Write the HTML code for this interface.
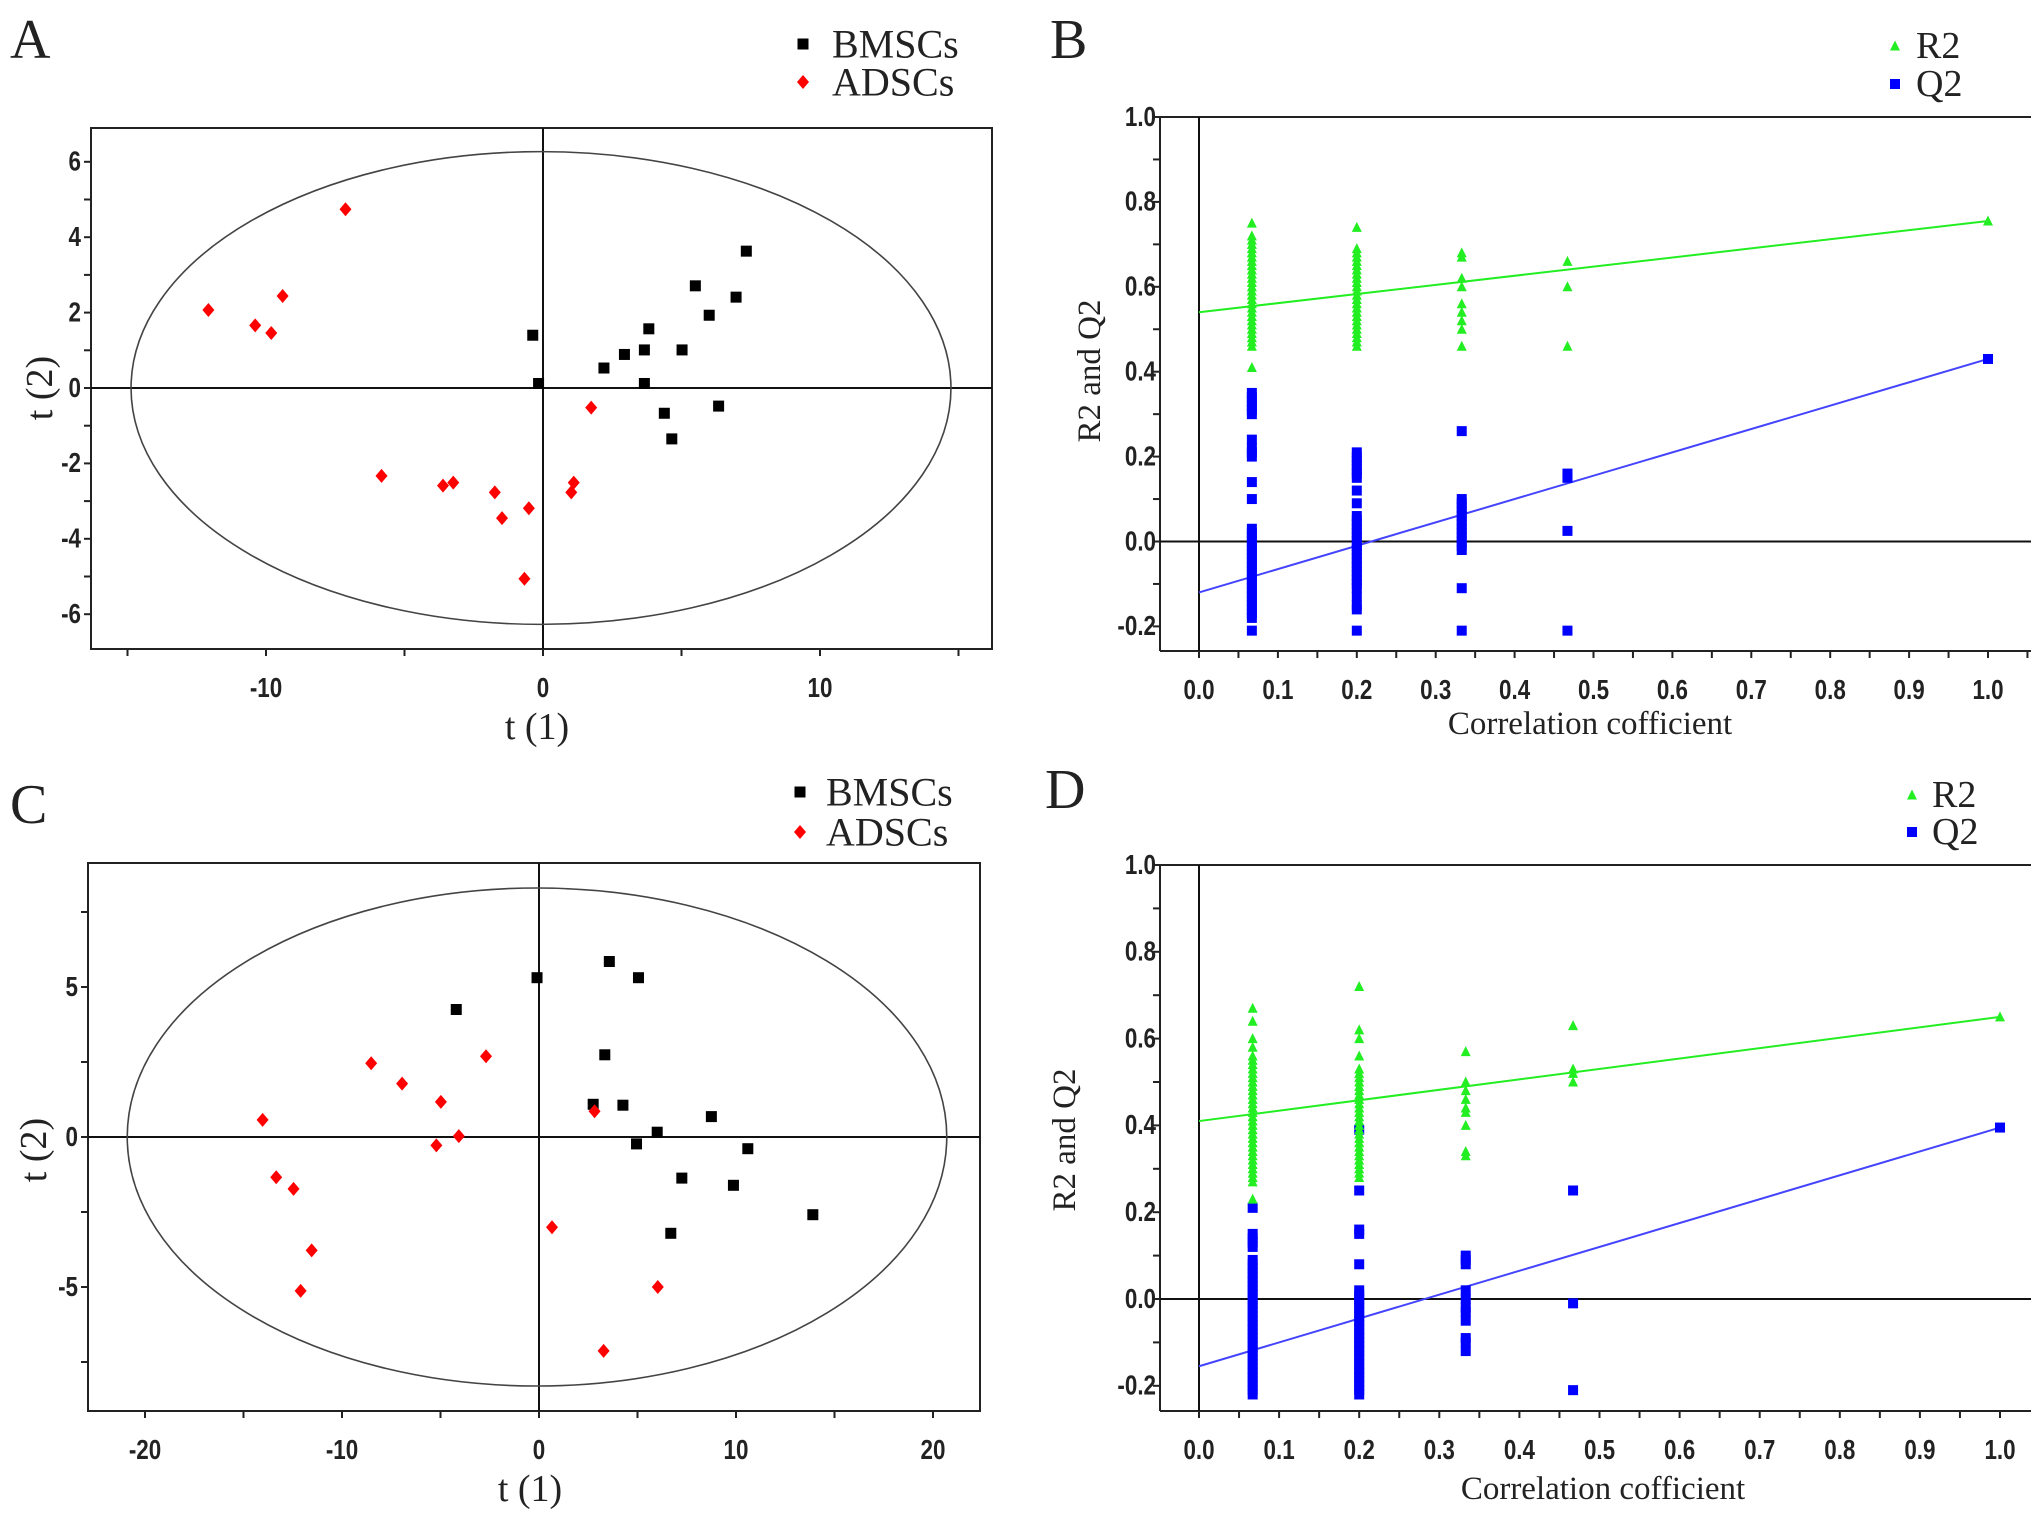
<!DOCTYPE html>
<html><head><meta charset="utf-8">
<style>
html,body{margin:0;padding:0;background:#fff;}
svg{display:block;}
.tick{font-family:"Liberation Sans",sans-serif;font-weight:bold;font-size:28px;fill:#222;}
.ser{font-family:"Liberation Serif",serif;fill:#222;}
</style></head>
<body>
<svg id="fig" width="2031" height="1520" viewBox="0 0 2031 1520" xmlns="http://www.w3.org/2000/svg"></svg>
<script>
// ---- Panel A data ----
const aBmscX = [-0.37,-0.16,2.2,2.94,3.66,3.82,3.66,5.02,5.5,6.0,6.97,7.34,6.34,4.38,4.65];
const aBmscY = [1.40,0.12,0.53,0.89,1.01,1.57,0.12,1.01,2.71,1.93,2.41,3.63,-0.48,-0.67,-1.35];
const aAdscX = [-7.13,-12.08,-10.39,-9.81,-9.4,-5.83,-3.61,-3.24,-1.74,-1.48,-0.51,-0.67,1.02,1.11,1.74];
const aAdscY = [4.74,2.07,1.66,1.46,2.44,-2.33,-2.59,-2.51,-2.77,-3.45,-3.19,-5.06,-2.77,-2.51,-0.52];
const aXTicks = [-10,0,10];
const aYTicks = [-6,-4,-2,0,2,4,6];
// ---- Panel C data ----
const cBmscX = [-0.1,3.57,5.05,-4.2,3.34,2.75,4.26,8.75,6.0,4.95,10.6,7.25,9.87,13.9,6.69];
const cBmscY = [5.31,5.85,5.31,4.25,2.74,1.09,1.06,0.68,0.16,-0.23,-0.39,-1.37,-1.61,-2.59,-3.21];
const cAdscX = [-8.52,-2.69,-6.95,-4.98,-14.03,-4.07,-5.21,2.82,-13.34,-12.46,-11.54,-12.1,0.66,6.03,3.28];
const cAdscY = [2.46,2.69,1.78,1.17,0.57,0.03,-0.28,0.86,-1.34,-1.73,-3.78,-5.13,-3.01,-5.0,-7.13];
const cXTicks = [-20,-10,0,10,20];
const cYTicks = [-5,0,5];
// ---- Panel B data ----
const permX = [0.067,0.2,0.333,0.467];
const bR2c1 = [0.41,0.46,0.47,0.48,0.49,0.50,0.51,0.52,0.53,0.54,0.55,0.56,0.57,0.58,0.59,0.60,0.61,0.62,0.63,0.64,0.65,0.66,0.67,0.68,0.69,0.70,0.71,0.72,0.75];
const bQ2c1 = [-0.21,-0.18,-0.17,-0.16,-0.15,-0.14,-0.13,-0.12,-0.11,-0.10,-0.09,-0.08,-0.07,-0.06,-0.05,-0.04,-0.03,-0.02,-0.01,0.0,0.01,0.02,0.03,0.10,0.14,0.20,0.21,0.22,0.24,0.30,0.31,0.32,0.33,0.34,0.35];
const bR2c2 = [0.46,0.47,0.48,0.49,0.50,0.51,0.52,0.53,0.54,0.55,0.56,0.57,0.58,0.59,0.60,0.61,0.62,0.63,0.64,0.65,0.66,0.67,0.68,0.69,0.74];
const bQ2c2 = [-0.21,-0.16,-0.15,-0.13,-0.11,-0.10,-0.09,-0.08,-0.07,-0.06,-0.05,-0.04,-0.03,-0.02,-0.01,0.0,0.01,0.02,0.03,0.04,0.05,0.06,0.09,0.12,0.15,0.16,0.17,0.18,0.19,0.20,0.21];
const bR2c3 = [0.46,0.50,0.52,0.54,0.56,0.60,0.62,0.67,0.68];
const bQ2c3 = [-0.21,-0.11,-0.02,-0.01,0.0,0.01,0.02,0.03,0.04,0.05,0.06,0.07,0.08,0.09,0.10,0.26];
const bR2c4 = [0.46,0.60,0.66];
const bQ2c4 = [-0.21,0.025,0.15,0.16];
const bR2Perm = [1.0,0.755];
const bQ2Perm = [1.0,0.43];
const bR2Line = [0.54,0.755];
const bQ2Line = [-0.12,0.43];
// ---- Panel D data ----
const dR2c1 = [0.23,0.27,0.28,0.29,0.30,0.31,0.32,0.33,0.34,0.35,0.36,0.37,0.38,0.39,0.40,0.41,0.42,0.43,0.44,0.45,0.46,0.47,0.48,0.49,0.50,0.51,0.52,0.53,0.54,0.55,0.56,0.58,0.60,0.64,0.67];
const dQ2c1 = [-0.22,-0.21,-0.20,-0.19,-0.18,-0.17,-0.16,-0.15,-0.14,-0.13,-0.12,-0.11,-0.10,-0.09,-0.08,-0.07,-0.06,-0.05,-0.04,-0.03,-0.02,-0.01,0.0,0.01,0.02,0.03,0.04,0.05,0.06,0.07,0.08,0.09,0.12,0.13,0.14,0.15,0.21];
const dR2c2 = [0.28,0.29,0.30,0.31,0.32,0.33,0.34,0.35,0.36,0.37,0.38,0.39,0.40,0.41,0.42,0.43,0.44,0.45,0.46,0.47,0.48,0.49,0.50,0.51,0.52,0.53,0.56,0.60,0.62,0.72];
const dQ2c2 = [-0.22,-0.21,-0.20,-0.19,-0.18,-0.17,-0.16,-0.15,-0.14,-0.13,-0.12,-0.11,-0.10,-0.09,-0.08,-0.07,-0.06,-0.05,-0.04,-0.03,-0.02,-0.01,0.0,0.01,0.02,0.08,0.15,0.16,0.25,0.39];
const dR2c3 = [0.33,0.34,0.40,0.43,0.44,0.46,0.48,0.50,0.57];
const dQ2c3 = [-0.12,-0.10,-0.09,-0.05,-0.03,-0.02,0.0,0.02,0.08,0.09,0.10];
const dR2c4 = [0.50,0.52,0.53,0.63];
const dQ2c4 = [-0.21,-0.01,0.25];
const dR2Perm = [1.0,0.65];
const dQ2Perm = [1.0,0.395];
const dR2Line = [0.41,0.65];
const dQ2Line = [-0.155,0.395];
const permTicks = [0.0,0.1,0.2,0.3,0.4,0.5,0.6,0.7,0.8,0.9,1.0];
const permYTicks = [-0.2,0.0,0.2,0.4,0.6,0.8,1.0];

const NS='http://www.w3.org/2000/svg';
const svg=document.getElementById('fig');
function mk(tag,attrs,parent){const e=document.createElementNS(NS,tag);for(const k in attrs)e.setAttribute(k,attrs[k]);(parent||svg).appendChild(e);return e;}
function txt(s,x,y,cls,size,anchor,parent){const t=mk('text',{x:x,y:y,'class':cls,'font-size':size,'text-anchor':anchor||'middle','dominant-baseline':'central'},parent);t.textContent=s;return t;}
function tickTxt(s,x,y,anchor,parent){const t=mk('text',{x:0,y:0,'class':'tick','font-size':28,'text-anchor':anchor,'dominant-baseline':'central',transform:`translate(${x},${y}) scale(0.8,1)`},parent);t.textContent=s;return t;}
function sq(x,y,s,fill,g){return mk('rect',{x:x-s/2,y:y-s/2,width:s,height:s,fill:fill},g);}
function dia(x,y,w,h,fill,g){return mk('polygon',{points:`${x},${y-h/2} ${x+w/2},${y} ${x},${y+h/2} ${x-w/2},${y}`,fill:fill},g);}
function tri(x,y,s,fill,g){return mk('polygon',{points:`${x},${y-s*0.55} ${x+s/2},${y+s*0.45} ${x-s/2},${y+s*0.45}`,fill:fill},g);}

function scorePanel(p){
  const g=mk('g',{});
  
  
  const X=v=>p.x0+v*p.sx, Y=v=>p.y0-v*p.sy;
  const f=mk('rect',{x:p.L,y:p.T,width:p.R-p.L,height:p.B-p.T,fill:'none',stroke:'#222','stroke-width':2},g);
  
  mk('line',{x1:p.L,x2:p.R,y1:Y(0),y2:Y(0),stroke:'#111','stroke-width':2},g);
  mk('line',{x1:X(0),x2:X(0),y1:p.T,y2:p.B,stroke:'#111','stroke-width':2},g);
  const el=mk('ellipse',{cx:p.ecx,cy:Y(0),rx:p.ex*p.sx,ry:p.ey*p.sy,fill:'none',stroke:'#444','stroke-width':1.6},g);
  
  for(let v=p.xMinorStart;v<=-p.xMinorStart+0.001;v+=p.xMinor){mk('line',{x1:X(v),x2:X(v),y1:p.B,y2:p.B+7,stroke:'#222','stroke-width':2},g);}
  for(let v=p.yMinorStart;v<=-p.yMinorStart+0.001;v+=p.yMinor){mk('line',{x1:p.L-7,x2:p.L,y1:Y(v),y2:Y(v),stroke:'#222','stroke-width':2},g);}
  p.xt.forEach(v=>{const t=tickTxt(String(v),X(v),p.xlY,'middle',g);});
  p.yt.forEach(v=>{const t=tickTxt(String(v),p.L-10,Y(v),'end',g);});
  p.bx.forEach((v,i)=>{const m=sq(X(v),Y(p.by[i]),11,'#000',g);});
  p.ax.forEach((v,i)=>{const m=dia(X(v),Y(p.ay[i]),12,14,'#f00',g);});
  const xt=txt('t (1)',p.xtitle[0],p.xtitle[1],'ser',38,'middle',g);
  const yt=txt('t (2)',0,0,'ser',38,'middle',g);yt.setAttribute('transform',`translate(${p.ytitle[0]},${p.ytitle[1]}) rotate(-90)`);
  
  const lt=txt(p.letter,p.letterPos[0],p.letterPos[1],'ser',56,'start',g);
  const l1=sq(p.leg[0],p.leg[1],11,'#000',g);
  const t1=txt('BMSCs',p.leg[2],p.leg[1],'ser',40,'start',g);
  const l2=dia(p.leg[0],p.leg[3],12,14,'#f00',g);
  const t2=txt('ADSCs',p.leg[2],p.leg[3],'ser',40,'start',g);
}

function permPanel(p){
  const g=mk('g',{});
  
  
  const X=v=>p.x0+v*p.sx, Y=v=>p.y0-v*p.sy;
  mk('line',{x1:p.L,x2:p.L,y1:Y(1),y2:p.B,stroke:'#222','stroke-width':2},g);
  mk('line',{x1:p.L,x2:2031,y1:p.B,y2:p.B,stroke:'#222','stroke-width':2},g);
  mk('line',{x1:p.L,x2:2031,y1:Y(1),y2:Y(1),stroke:'#222','stroke-width':2},g);
  mk('line',{x1:p.L,x2:2031,y1:Y(0),y2:Y(0),stroke:'#111','stroke-width':2},g);
  mk('line',{x1:X(0),x2:X(0),y1:Y(1),y2:p.B,stroke:'#111','stroke-width':2},g);
  for(let i=-1;i<=21;i++){const v=i*0.05;const x=X(v);if(x<p.L||x>2030)continue;mk('line',{x1:x,x2:x,y1:p.B,y2:p.B+7,stroke:'#222','stroke-width':2},g);}
  for(let i=-2;i<=10;i++){mk('line',{x1:p.L-7,x2:p.L,y1:Y(i/10),y2:Y(i/10),stroke:'#222','stroke-width':2},g);}
  permTicks.forEach(v=>{const t=tickTxt(v.toFixed(1),X(v),p.xlY,'middle',g);});
  permYTicks.forEach(v=>{const t=tickTxt(v.toFixed(1),p.L-4,Y(v),'end',g);});
  const rl=mk('line',{x1:X(0),y1:Y(p.rLine[0]),x2:X(1),y2:Y(p.rLine[1]),stroke:'#22ee22','stroke-width':2},g);
  
  const ql=mk('line',{x1:X(0),y1:Y(p.qLine[0]),x2:X(1),y2:Y(p.qLine[1]),stroke:'#4444ff','stroke-width':2},g);
  
  p.q.forEach((col,i)=>col.forEach(v=>{const m=sq(X(permX[i]),Y(v),10,'#0000ff',g);}));
  p.r.forEach((col,i)=>col.forEach(v=>{const m=tri(X(permX[i]),Y(v),10,'#22ee22',g);}));
  const qp=sq(X(p.qPerm[0]),Y(p.qPerm[1]),10,'#0000ff',g);
  const rp=tri(X(p.rPerm[0]),Y(p.rPerm[1]),10,'#22ee22',g);
  const xt=txt('Correlation cofficient',p.xtitle[0],p.xtitle[1],'ser',33,'middle',g);
  const yt=txt('R2 and Q2',0,0,'ser',33,'middle',g);yt.setAttribute('transform',`translate(${p.ytitle[0]},${p.ytitle[1]}) rotate(-90)`);
  
  const lt=txt(p.letter,p.letterPos[0],p.letterPos[1],'ser',56,'start',g);
  const l1=tri(p.leg[0],p.leg[1],10,'#22ee22',g);
  const t1=txt('R2',p.leg[2],p.leg[1],'ser',38,'start',g);
  const l2=sq(p.leg[0],p.leg[3],10,'#0000ff',g);
  const t2=txt('Q2',p.leg[2],p.leg[3],'ser',38,'start',g);
}

scorePanel({name:'panel-a-score-plot',L:91,T:128,R:992,B:649,x0:543,sx:27.7,y0:388,sy:37.7,ecx:541,ex:14.8,ey:6.27,
  xMinorStart:-15,xMinor:5,yMinorStart:-6,yMinor:1,xt:aXTicks,yt:aYTicks,xlY:688,
  bx:aBmscX,by:aBmscY,ax:aAdscX,ay:aAdscY,xtitle:[537,727],ytitle:[40,388],letter:'A',letterPos:[10,40],leg:[803,44,832,82]});
scorePanel({name:'panel-c-score-plot',L:88,T:863,R:980,B:1411,x0:539,sx:19.7,y0:1137,sy:30,ecx:537,ex:20.8,ey:8.3,
  xMinorStart:-20,xMinor:5,yMinorStart:-7.5,yMinor:2.5,xt:cXTicks,yt:cYTicks,xlY:1450,
  bx:cBmscX,by:cBmscY,ax:cAdscX,ay:cAdscY,xtitle:[530,1489],ytitle:[34,1150],letter:'C',letterPos:[10,805],leg:[800,792,826,832]});
permPanel({name:'panel-b-permutation',L:1160,B:651,x0:1199,sx:789,y0:541.5,sy:424.5,xlY:690,
  r:[bR2c1,bR2c2,bR2c3,bR2c4],q:[bQ2c1,bQ2c2,bQ2c3,bQ2c4],rPerm:bR2Perm,qPerm:bQ2Perm,rLine:bR2Line,qLine:bQ2Line,
  xtitle:[1590,724],ytitle:[1090,371],letter:'B',letterPos:[1050,40],leg:[1895,46,1916,84]});
permPanel({name:'panel-d-permutation',L:1160,B:1411,x0:1199,sx:801,y0:1299,sy:434,xlY:1450,
  r:[dR2c1,dR2c2,dR2c3,dR2c4],q:[dQ2c1,dQ2c2,dQ2c3,dQ2c4],rPerm:dR2Perm,qPerm:dQ2Perm,rLine:dR2Line,qLine:dQ2Line,
  xtitle:[1603,1489],ytitle:[1065,1140],letter:'D',letterPos:[1045,790],leg:[1912,795,1932,832]});
</script>
</body></html>
